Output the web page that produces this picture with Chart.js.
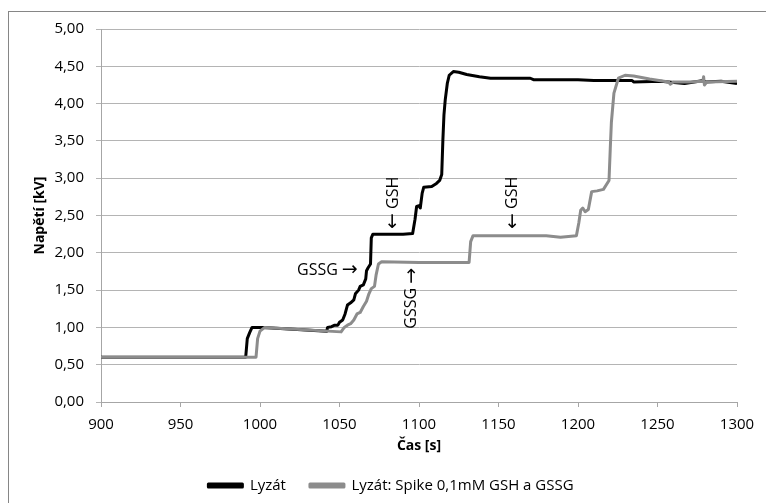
<!DOCTYPE html>
<html>
<head>
<meta charset="utf-8">
<script src="https://cdn.jsdelivr.net/npm/chart.js@4/dist/chart.umd.min.js"></script>
<style>
  html, body { margin: 0; padding: 0; background: #fff; }
  #wrap { width: 766px; height: 503px; position: relative; }
</style>
</head>
<body>
<div id="wrap"><canvas id="chart"></canvas></div>
<script>
// time [s] and voltage [kV]
var lyzatTime = [900, 991, 992, 993.5, 995, 1002, 1042, 1042.5, 1045, 1047, 1049, 1050, 1052, 1053.5, 1055, 1057,
  1059, 1060, 1062, 1063, 1065, 1066.5, 1067, 1068, 1069.5, 1070, 1071, 1080, 1090, 1096, 1097.5, 1098.5,
  1100, 1100.8, 1102, 1103, 1108, 1111, 1113, 1114.3, 1115, 1115.7, 1116.5, 1117.8, 1119, 1121.6, 1125,
  1130, 1138, 1145, 1160, 1170, 1172, 1176, 1200, 1210, 1234, 1235, 1252, 1267, 1279, 1280, 1290, 1300];
var lyzatKV = [0.60, 0.60, 0.85, 0.93, 1.00, 1.00, 0.95, 1.00, 1.01, 1.03, 1.03, 1.07, 1.10, 1.18, 1.30, 1.33,
  1.37, 1.45, 1.50, 1.55, 1.57, 1.65, 1.76, 1.80, 1.85, 2.20, 2.25, 2.25, 2.25, 2.26, 2.45, 2.62,
  2.63, 2.60, 2.80, 2.88, 2.89, 2.93, 2.97, 3.05, 3.50, 3.85, 4.05, 4.27, 4.38, 4.43, 4.42,
  4.39, 4.36, 4.34, 4.34, 4.34, 4.32, 4.32, 4.32, 4.31, 4.31, 4.29, 4.30, 4.27, 4.31, 4.29, 4.30, 4.27];

var spikeTime = [900, 997.5, 998.5, 1000, 1003, 1051, 1053, 1055, 1057, 1059, 1061, 1063, 1065, 1067, 1068.5,
  1070, 1072, 1073, 1074.5, 1076.5, 1100, 1131.5, 1132.5, 1134, 1150, 1165, 1180, 1189, 1199, 1200.5,
  1201.7, 1203, 1204.5, 1206.5, 1208.6, 1212, 1216, 1219.5, 1220.3, 1221, 1222.6, 1225.4, 1229.6, 1235,
  1245, 1257, 1258, 1260, 1270, 1278.5, 1279, 1279.5, 1281, 1300];
var spikeKV = [0.60, 0.60, 0.85, 0.95, 1.00, 0.94, 1.00, 1.03, 1.05, 1.10, 1.18, 1.20, 1.28, 1.35, 1.45,
  1.52, 1.55, 1.70, 1.85, 1.88, 1.87, 1.87, 2.15, 2.23, 2.23, 2.23, 2.23, 2.21, 2.23, 2.40,
  2.57, 2.60, 2.55, 2.58, 2.82, 2.83, 2.85, 2.97, 3.40, 3.75, 4.14, 4.34, 4.38, 4.37,
  4.33, 4.29, 4.26, 4.29, 4.29, 4.30, 4.36, 4.25, 4.29, 4.30];

var seriesNames = ["Lyzát", "Lyzát: Spike 0,1mM GSH a GSSG"];
var seriesColors = ["#000000", "#8c8c8c"];

// labels placed on the plot: word, arrow side, time, voltage, rotated?
var noteWord = ["GSSG", "GSH", "GSSG", "GSH"];
var noteArrowFirst = [false, true, false, true];
var noteTime = [1061.5, 1084, 1095.5, 1159];
var noteKV = [1.77, 2.67, 1.39, 2.67];
var noteRotated = [false, true, true, true];

var fontName = "'Open Sans', 'Noto Sans', sans-serif";
var arrowFont = "19px 'DejaVu Sans'";
var wordFont = "16px " + fontName;

// left layout padding only moves the legend centre; the y axis keeps x = 101
var padLeft = 45;

function toPoints(xs, ys) {
  var pts = [];
  for (var i = 0; i < xs.length; i++) pts.push({x: xs[i], y: ys[i]});
  return pts;
}

// draws "word ->" or "<- word" around 0,0 (ctx already moved there)
function drawNote(ctx, word, arrowFirst, alignRight) {
  var arrow = arrowFirst ? "\u2190" : "\u2192";
  var gap = 4;
  ctx.font = arrowFont;
  var aw = ctx.measureText(arrow).width;
  ctx.font = wordFont;
  var ww = ctx.measureText(word).width;
  var total = aw + gap + ww;
  var x = alignRight ? -total : -total / 2;
  var parts = arrowFirst ? [[arrow, arrowFont, aw], [word, wordFont, ww]] : [[word, wordFont, ww], [arrow, arrowFont, aw]];
  for (var k = 0; k < parts.length; k++) {
    ctx.font = parts[k][1];
    ctx.fillText(parts[k][0], x, 0);
    x += parts[k][2] + gap;
  }
}

var frameAndNotes = {
  id: "frameAndNotes",
  beforeDraw: function (chart) {
    var ctx = chart.ctx;
    ctx.save();
    ctx.strokeStyle = "#868686";
    ctx.lineWidth = 1;
    ctx.strokeRect(8.5, 11.5, 800, 520);
    ctx.restore();
  },
  afterDatasetsDraw: function (chart) {
    var ctx = chart.ctx;
    var xs = chart.scales.x, ys = chart.scales.y;
    ctx.save();
    ctx.fillStyle = "#000";
    ctx.textBaseline = "middle";
    ctx.textAlign = "left";
    for (var i = 0; i < noteWord.length; i++) {
      var px = xs.getPixelForValue(noteTime[i]);
      var py = ys.getPixelForValue(noteKV[i]);
      ctx.save();
      ctx.translate(px, py);
      if (noteRotated[i]) ctx.rotate(-Math.PI / 2);
      drawNote(ctx, noteWord[i], noteArrowFirst[i], !noteRotated[i]);
      ctx.restore();
    }
    ctx.restore();
  }
};

var datasets = [];
var allSeries = [[lyzatTime, lyzatKV], [spikeTime, spikeKV]];
for (var s = 0; s < allSeries.length; s++) {
  datasets.push({
    label: seriesNames[s],
    data: toPoints(allSeries[s][0], allSeries[s][1]),
    borderColor: seriesColors[s],
    backgroundColor: seriesColors[s],
    borderWidth: 3,
    pointRadius: 0,
    tension: 0,
    borderJoinStyle: "round"
  });
}
// grey line sits on top in the original
datasets.reverse();

new Chart(document.getElementById("chart"), {
  type: "line",
  data: { datasets: datasets },
  plugins: [frameAndNotes],
  options: {
    responsive: true,
    maintainAspectRatio: false,
    animation: false,
    layout: { padding: { left: padLeft, top: 29, right: 29, bottom: 0 } },
    plugins: {
      tooltip: { enabled: false },
      legend: {
        position: "bottom",
        reverse: true,
        labels: {
          color: "#000",
          font: { family: fontName, size: 15 },
          boxWidth: 34,
          boxHeight: 3,
          padding: 24
        }
      }
    },
    scales: {
      x: {
        type: "linear",
        min: 900,
        max: 1300,
        ticks: {
          stepSize: 50, color: "#000", padding: 9, font: { family: fontName, size: 15 },
          callback: function (v) { return String(v); }
        },
        grid: { drawOnChartArea: false, drawTicks: true, tickLength: 5, color: "#a6a6a6" },
        border: { color: "#a6a6a6" },
        title: { display: true, text: "Čas [s]", color: "#000", padding: { top: 0, bottom: 0 },
          font: { family: fontName, size: 14, weight: "bold" } },
        afterFit: function (scale) { scale.height = 52; }
      },
      y: {
        min: 0,
        max: 5,
        ticks: {
          stepSize: 0.5, color: "#000", padding: 12,
          font: { family: fontName, size: 15 },
          callback: function (v) { return v.toFixed(2).replace(".", ","); }
        },
        grid: { color: "#b4b4b4", tickLength: 5 },
        border: { color: "#a6a6a6" },
        title: { display: true, text: "Napětí [kV]", color: "#000", padding: { top: 32 - padLeft, bottom: 0 },
          font: { family: fontName, size: 14, weight: "bold" } },
        afterFit: function (scale) { scale.width = 101 - padLeft; }
      }
    }
  }
});
</script>
</body>
</html>
